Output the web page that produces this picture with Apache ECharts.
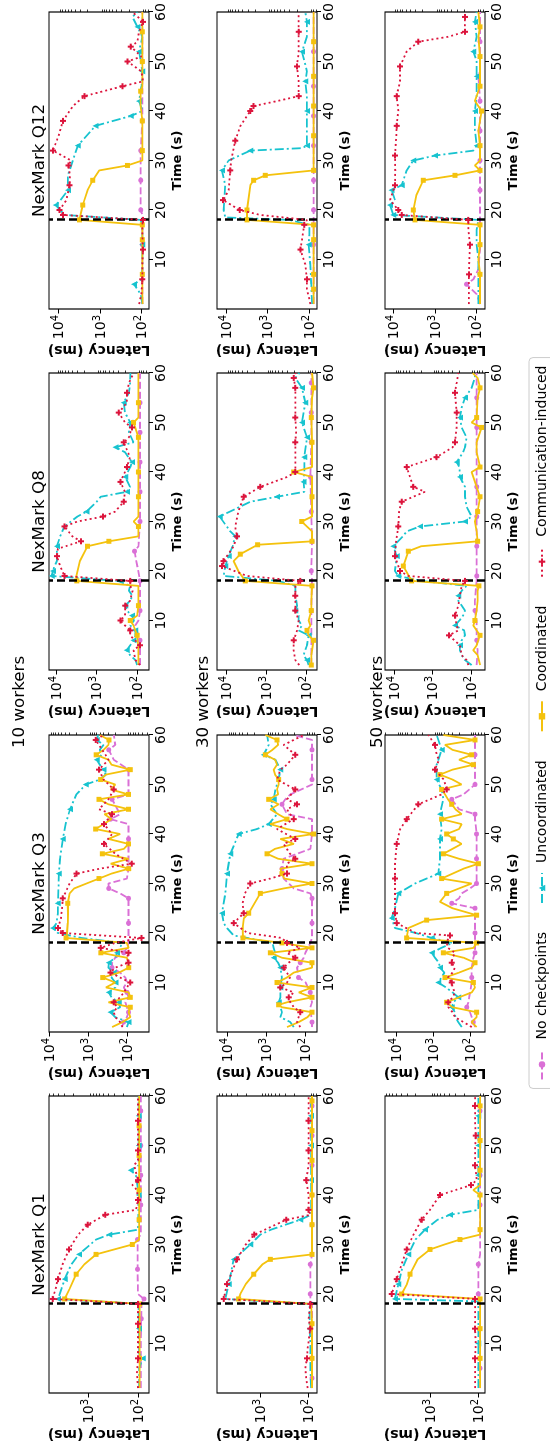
<!DOCTYPE html>
<html><head><meta charset="utf-8">
<script src="https://cdn.jsdelivr.net/npm/echarts@6/dist/echarts.min.js"></script>
<style>
html,body{margin:0;padding:0;background:#fff;}
#wrap{position:relative;width:550px;height:1446px;overflow:hidden;background:#fff;}
#chart{position:absolute;left:0;top:0;width:1446px;height:550px;transform-origin:0 0;transform:translate(0px,1446px) rotate(-90deg);}
</style></head><body>
<div id="wrap"><div id="chart"></div></div>
<script>
// ---------- labels ----------
const queries = ['NexMark Q1','NexMark Q3','NexMark Q8','NexMark Q12'];
const workers = ['10 workers','30 workers','50 workers'];
const seriesNames = ['No checkpoints','Uncoordinated','Coordinated','Communication-induced'];
const timeTicks = [10,20,30,40,50,60];
const latencyTicks = [100,1000,10000];
const latencyMinorTicks = [20,30,40,50,60,70,80,90,200,300,400,500,600,700,800,900,2000,3000,4000,5000,6000,7000,8000,9000,20000];
const checkpointTime = 18;
// y-axis limits [row][col]
const yMin = [[60,27,51,65.5],[67,51.5,54,65.5],[72.8,39,43,63]];
const yMax = [[6210,10190,15100,17060],[7890,17950,17100,16400],[8530,20800,17500,15850]];

// ---------- data: [time, latency(ms), marker?] ----------
// 10 workers
const none10_q1 = [[1,88],[8,88],[15,86,1],[18,85],[19,76,1],[20,100],[25,102,1],[31,102,1],[32,88],[38,88,1],[44,88,1],[50,88,1],[57,88,1],[60,88]];
const unc10_q1 = [[1,95],[5,95],[7,80,1],[8,95],[13,95,1],[18,98],[19,4100,1],[21,3500],[23,3000,1],[26,2200],[28,1550,1],[31,700],[32,380,1],[33,100],[40,97,1],[44,110],[45,140,1],[46,97],[50,97,1],[56,97,1],[60,97]];
const coo10_q1 = [[1,93],[7,93,1],[12,93],[18,93,1],[19,3000,1],[21,2400],[24,1760,1],[26,1200],[28,700,1],[30,130,1],[31,95],[35,95,1],[41,95,1],[48,95,1],[54,95,1],[60,95]];
const com10_q1 = [[1,100],[4,105],[7,100,1],[10,100],[14,100,1],[18,100,1],[19,5200,1],[21,4600],[23,4100,1],[26,3300],[29,2460,1],[32,1600],[34,1030,1],[36,458,1],[37,110],[39,100,1],[41,105],[42,130],[43,100,1],[46,120],[47,100],[49,100,1],[52,100],[55,100,1],[58,100],[60,100]];

const none10_q3 = [[1,134],[2,122,1],[3,100],[4,91,1],[5,100],[6,110],[7,91],[8,100,1],[9,120],[10,100],[11,110],[12,150],[13,241,1],[14,241],[15,200],[16,120,1],[17,100],[18,91],[19,91],[22,91,1],[25,91],[27,91,1],[28,150],[29,293,1],[30,300],[31,100],[33,91,1],[36,91],[39,91,1],[42,91],[43,265,1],[44,150],[47,241,1],[48,91],[50,91],[53,91,1],[55,218],[57,293,1],[58,200],[60,218]];
const unc10_q3 = [[1,100],[2,91,1],[3,200],[4,265,1],[5,150],[6,163,1],[7,250],[8,293,1],[9,200],[10,198,1],[11,250],[12,218,1],[13,300],[14,293,1],[15,200],[16,180,1],[17,150],[18,134],[19,1500],[20,6000],[21,8070,1],[22,6500],[24,6000],[26,6020,1],[29,5800],[32,5680,1],[35,5300],[39,4500,1],[42,3800],[45,2930,1],[48,2000],[50,1150,1],[51,500],[52,350],[53,400,1],[54,500],[55,600,1],[56,450],[57,500],[58,400],[59,600,1],[60,550]];
const coo10_q3 = [[1,240],[2,130],[3,82],[4,90],[5,82,1],[6,300],[7,82,1],[8,90],[9,350],[10,200],[11,420,1],[12,160],[13,90,1],[14,90],[15,100],[16,470,1],[17,90],[18,100],[19,3700,1],[20,3500],[22,3350],[24,3300],[26,3350,1],[28,3000],[29,2300],[30,1100],[31,525,1],[32,250],[33,90,1],[34,260],[35,90],[36,430,1],[37,120],[38,91,1],[39,300],[40,150],[41,640,1],[42,400],[43,250],[44,380],[45,91,1],[46,300],[47,525,1],[48,91,1],[49,260],[50,200],[51,476,1],[52,350],[53,82,1],[54,250],[55,300],[56,620,1],[57,400],[58,300],[59,290,1],[60,500]];
const com10_q3 = [[1,130],[2,150],[3,200],[4,218],[5,180],[6,218,1],[7,150],[8,120],[9,100],[10,82,1],[11,150],[12,265,1],[13,200],[14,91,1],[15,100],[16,91,1],[17,476,1],[18,200],[19,42,1],[20,4500,1],[21,6000,1],[23,5000],[25,4700],[27,4500,1],[30,3000],[32,1980,1],[33,500],[34,75,1],[36,200],[38,392,1],[40,241],[42,392,1],[44,241,1],[45,525],[47,300],[49,218,1],[51,400],[53,525,1],[55,300],[56,356],[59,640,1],[60,400]];

const none10_q8 = [[1,85],[6,85,1],[9,112],[10,93],[12,85,1],[18,85,1],[24,116,1],[25,93],[30,85,1],[36,85,1],[42,85,1],[48,85,1],[54,85,1],[60,85]];
const unc10_q8 = [[1,100],[2,110],[3,150],[4,180,1],[5,148],[6,123,1],[7,110],[8,112,1],[9,148],[10,120],[11,135,1],[12,179],[13,196,1],[14,150],[15,130],[16,160],[17,148],[18,300],[19,13000,1],[20,12050,1],[21,11000],[22,9640],[25,9640,1],[27,8000],[29,6270],[31,3000],[32,1790,1],[34,1000],[35,800],[36,179,1],[37,150],[39,196,1],[41,148],[42,135,1],[44,200],[45,344,1],[46,123],[48,160],[50,148,1],[52,200],[54,215,1],[56,160],[58,150],[60,148]];
const coo10_q8 = [[1,93],[3,93],[5,95],[7,100,1],[9,123],[10,148,1],[11,100],[13,93,1],[15,93],[17,93],[18,3100,1],[19,3200],[22,2600],[25,1690,1],[26,500,1],[27,93],[29,93,1],[30,123],[31,93],[35,93,1],[40,93,1],[44,93],[47,93,1],[50,123,1],[51,93],[54,93,1],[60,93]];
const com10_q8 = [[1,85],[2,110],[4,123],[5,85,1],[7,150],[8,148,1],[9,200],[10,260,1],[11,200],[13,196,1],[14,150],[16,130],[17,148],[18,148,1],[19,6270,1],[21,8000],[23,9640,1],[24.5,9100],[26,2450,1],[27,4000],[29,6270,1],[30,3000],[31,700,1],[32,350],[34,215,1],[36,200],[38,260,1],[40,200],[41,179,1],[43,150],[46,215,1],[47,160],[49,135,1],[50,200],[52,285,1],[54,180],[56,179,1],[58,160],[60,123]];

const none10_q12 = [[1,95],[7,95],[13,95,1],[19,95],[20,104,1],[26,104,1],[32,104,1],[38,95,1],[44,95],[50,95,1],[56,95],[60,95]];
const unc10_q12 = [[1,95],[3,104],[5,150,1],[6,100],[8,95],[12,95],[13,95,1],[17,95],[18,104],[19,7180],[21,11800,1],[22,9000],[24,5970,1],[27,5970],[33,3440,1],[37,1290,1],[39,180,1],[40,95],[42,114,1],[45,100],[48,95,1],[52,114,1],[55,95],[57,125,1],[59,164],[60,125]];
const coo10_q12 = [[1,93],[3,95],[7,95,1],[10,95],[14,95,1],[17,95,1],[18,3130,1],[21,2610,1],[24,2000],[26,1500,1],[28,1040],[29,217,1],[30,95],[32,95,1],[38,95,1],[41,104],[44,104,1],[45,95],[50,95,1],[56,95,1],[60,95]];
const com10_q12 = [[1,114],[3,100],[6,95,1],[9,95],[12,91,1],[15,95],[17,95],[18,91,1],[19,7870,1],[20,9460,1],[22,6500],[25,5440,1],[27,5300],[29,5750,1],[30,5000],[32,13700,1],[35,10000],[38,7870,1],[41,4500],[43,2380,1],[45,286,1],[46,91],[48,100],[50,217,1],[51,100],[53,180,1],[54,125],[56,114],[58,91,1],[60,164]];

// 30 workers
const none30_q1 = [[1,85],[3,85,1],[10,85],[13,85],[18,85],[19,92],[20,92,1],[26,92,1],[28,85],[34,85,1],[40,85,1],[46,85,1],[52,85,1],[58,85,1],[60,85]];
const unc30_q1 = [[1,89],[5,92],[10,92],[13,95,1],[15,95],[18,95],[19,5300],[22,4520,1],[27,3560,1],[30,1610,1],[32,1000],[33,600],[34,300],[35,149,1],[36,89],[40,89],[43,89,1],[48,89],[50,89,1],[56,89,1],[60,89]];
const coo30_q1 = [[1,85],[7,85,1],[14,85,1],[18,89],[19,2810,1],[20,2600],[22,2000],[24,1370,1],[26,900],[27,620,1],[28,85,1],[34,85,1],[40,85,1],[47,85,1],[53,85,1],[59,85,1],[60,85]];
const com30_q1 = [[1,105],[3,112],[5,117],[7,108,1],[9,105],[13,92,1],[15,100],[18,92,1],[19,5740,1],[22,4890,1],[27,3040,1],[30,2000],[32,1330,1],[35,290,1],[36,92],[37,100,1],[40,100],[43,112,1],[46,100],[49,100,1],[52,100],[55,100,1],[58,100],[60,100]];

const none30_q3 = [[1,69],[2,69,1],[5,76],[6,69],[8,76,1],[10,100],[11,151,1],[13,166],[14,137,1],[15,112],[16,102],[18,76],[19,69],[22,69,1],[27,69,1],[28,76],[29,200],[31,362],[33,400,1],[35,362],[37,76],[40,69,1],[43,69],[44,298],[46,400,1],[47,330],[48,245],[50,69],[51,69,1],[57,69,1],[59,69],[60,200]];
const unc30_q3 = [[1,200],[2,245],[3,440],[4,400],[6,486,1],[7,440],[9,440,1],[11,400],[13,440,1],[14,500],[15,650,1],[16,600],[17,650],[18,700],[19,3000],[19.5,6780],[21,10000],[22,12200],[24,13400,1],[26,12200],[28,11000],[32,10000,1],[36,8220,1],[40,5050,1],[41,1730],[42,870,1],[44,535],[46,790],[47,650,1],[49,590],[51,486],[53,440,1],[55,590],[56,1170,1],[58,870],[60,960]];
const coo30_q3 = [[1,298],[2,150],[3,90],[4,69,1],[5,400],[5.5,486,1],[6,300],[7,69,1],[8,150],[9,69,1],[10,535,1],[11,300],[12,200],[13,69],[14,69,1],[15,400],[16,790,1],[17,69,1],[18,400,1],[19,3920,1],[21,4000],[23,3700],[24,2810,1],[26,2000],[28,1420,1],[29,362],[30,69,1],[31,350],[32,400,1],[33,440],[34,69,1],[35,500],[36,960,1],[37,600],[38,200],[39,440],[40,63,1],[41,300],[42,790],[43,298,1],[44,500],[45,790],[46,486],[47,870,1],[48,500],[49,535],[50,486],[51,486,1],[52,600],[53,650],[54,535],[55,600],[56,1060,1],[57,700],[58,500],[59,535,1],[60,1060]];
const com30_q3 = [[1,137],[2,166],[3,151],[4,137,1],[5,200],[6,245],[7,271,1],[8,200],[9,440,1],[10,300],[11,250],[13,362,1],[14,271],[15,183,1],[16,300],[17,137],[18,298,1],[19,400],[20,3000],[22,6780,1],[24,3770,1],[26,4000],[28,3500],[30,2550,1],[31,800],[32,298,1],[34,300],[35,183,1],[36,250],[38,362],[39,183,1],[41,535],[43,202,1],[45,300],[46,166,1],[47,298],[49,183,1],[51,535],[53,440],[54,300],[56,183,1],[58,362],[60,112]];

const none30_q8 = [[1,75],[6,75],[12,75,1],[18,72],[20,75,1],[26,72,1],[32,75,1],[39,79,1],[46,75,1],[52,75,1],[58,75,1],[60,75]];
const unc30_q8 = [[1,87],[2,96,1],[3,117],[4,106],[5,96],[7,87,1],[8,155],[9,128],[10,155],[11,155],[12,188,1],[13,170],[15,188],[17,188],[18,500],[19,11700],[21,10600,1],[23,8740,1],[25,7000],[27,5960,1],[28,7940],[31,14700,1],[34,2500],[35,541,1],[36,112],[38,117,1],[40,112],[43,112,1],[47,96,1],[50,128,1],[54,106,1],[57,128,1],[59,188],[60,150]];
const coo30_q8 = [[1,75,1],[3,75],[6,66,1],[7,87],[8,96,1],[9,79],[10,87],[12,75,1],[14,75],[17,72,1],[18,3350,1],[20,5000],[22,6560],[23.4,4470,1],[25.3,1650,1],[26,72,1],[28,72],[30,130,1],[31,72],[35,72,1],[39,72],[40,207,1],[41,72],[46,72,1],[51,75,1],[55,72],[57,66,1],[60,72]];
const com30_q8 = [[1,150],[2,188],[4,207],[6,207,1],[8,170],[10,155],[12,188,1],[14,188],[15,188,1],[17,188],[18,141,1],[19,3040],[21,12800,1],[22,11700,1],[25,6560],[27,5410,1],[29,6000],[32,5000],[35,3690,1],[37,1410,1],[39,300],[40,188,1],[43,188],[46,188,1],[48,180],[51,188,1],[54,188],[57,188,1],[59,207,1],[60,188]];

const none30_q12 = [[1,79],[7,79],[13,79,1],[20,79,1],[26,79,1],[33,79,1],[39,79,1],[45,79,1],[52,79,1],[60,79]];
const unc30_q12 = [[1,86],[5,90],[9,95],[13,104,1],[15,100],[17,100],[18,300],[18.5,10400],[20,11400],[25,10400],[28,12500,1],[30,8630],[32,2610,1],[32.5,150],[33,114,1],[36,114],[40,114,1],[43,114],[46,125,1],[48,114],[52,150,1],[55,114],[58,114,1],[60,125]];
const coo30_q12 = [[1,79],[4,79,1],[7,79,1],[11,79],[14,79,1],[17,79,1],[18,3130,1],[20,3130,1],[25,2600],[26,2170,1],[27,1140,1],[28,79,1],[35,79,1],[41,79,1],[47,79,1],[54,79,1],[60,79]];
const com30_q12 = [[1,95],[2,100],[4,114],[6,114,1],[9,125],[12,164,1],[14,150],[17,132,1],[18,114],[19,1500],[20,4700,1],[22,11700,1],[24,8630],[28,7870,1],[30,7500],[34,5970,1],[37,4500],[40,2610,1],[41,2170,1],[42,600],[43,180,1],[46,180],[49,198,1],[52,180],[56,180,1],[58,180],[60,180]];

// 50 workers
const none50_q1 = [[1,92],[5,92,1],[12,92],[18,92],[20,100,1],[26,100,1],[28,92],[32,92],[38,92,1],[44,92,1],[50,92],[57,92,1],[60,92]];
const unc50_q1 = [[1,100],[5,100],[10,100,1],[13,100],[17,100],[18.5,100],[19,5300,1],[22,4520,1],[25,3800],[28,2810,1],[31,2000],[33,1270,1],[35,700],[36,386,1],[37,100],[40,100],[44,100,1],[50,100,1],[56,100,1],[60,100]];
const coo50_q1 = [[1,92],[7,92,1],[13,92,1],[18,92],[19,92,1],[20,3860,1],[22,3000],[24,2590,1],[27,1800],[29,1000,1],[30,500],[31,240,1],[32,92],[33,92,1],[40,92,1],[41,127],[42,92],[45,92,1],[51,92,1],[58,92,1],[60,92]];
const com50_q1 = [[1,117],[4,117],[7,117,1],[10,113],[13,117,1],[16,117],[19,117,1],[20,6210,1],[23,4890,1],[26,3860],[29,3040,1],[32,2200],[35,1490,1],[37,1000],[40,620,1],[42,142,1],[43,108],[46,117,1],[49,117],[52,113,1],[55,117],[58,117,1],[60,117]];

const none50_q3 = [[1,73],[2,81,1],[4,100],[5,123,1],[6,111],[8,100],[10,90],[11,90,1],[13,90],[15,81],[16,73,1],[18,73],[19,73],[20,73,1],[22,73],[25,73,1],[26,316,1],[27,200],[28,169],[29,100],[30,66,1],[33,66],[35,66,1],[40,66,1],[43,73],[44,73,1],[45,200],[47,316,1],[48,150],[50,73,1],[54,73],[56,73,1],[60,73]];
const unc50_q3 = [[1,169],[2,208],[3,250],[4,257],[5,316,1],[6,285],[7,208,1],[8,300],[9,450],[10,731,1],[11,600],[12,500],[13,658,1],[14,700],[15,900],[16,1110,1],[17,600],[18,300],[19,1100,1],[20,3000],[21,11100],[23,13700,1],[25,11100],[28,9010,1],[30,3160],[31,1520],[32,731,1],[35,658],[39,658,1],[41,593],[44,658,1],[47,533],[49,593],[51,811,1],[54,811],[57,593,1],[60,811]];
const coo50_q3 = [[1,66],[2,90],[3,66],[4,66,1],[5,300],[6,433,1],[7,200],[8,90],[9,73],[10,81,1],[11,481,1],[12,200],[13,90],[14,73,1],[15,150],[16,533,1],[17,80],[18,66,1],[19,5340,1],[21,4810],[22.6,1520,1],[23.6,66,1],[25,300],[26.3,658],[28,433,1],[29,200],[30,90],[31,593,1],[32,300],[33,150],[34,59,1],[35,200],[36,533,1],[37,300],[38,169],[39,285,1],[40,433,1],[41,200],[42,169],[43,593,1],[44,169],[45,250],[46,316,1],[47,400],[48,481],[49,593,1],[50,169],[51,300],[52,658,1],[53,300],[54,81,1],[55,200],[56,90,1],[57,300],[58,481],[59,73,1],[60,533]];
const com50_q3 = [[1,90],[2,150],[3,257],[4,300],[5,390],[6,390,1],[7,300],[8,257],[9,300],[10,316,1],[11,400],[12,300],[13,257],[14,316,1],[15,300],[16,257],[17,400],[18,433],[19,390],[19.5,351,1],[20,3000],[22,10000,1],[24,11100,1],[27,11100],[31,11100,1],[34,11100],[38,10000,1],[41,8000],[43,5340,1],[46,2570,1],[48,593],[49,433,1],[51,520],[53,900,1],[55,700],[56,811],[58,900,1],[60,1370]];

const none50_q8 = [[1,71],[4,67],[6,71,1],[10,71],[12,79,1],[14,79],[18,71],[19,71,1],[24,71],[25,71,1],[31,71,1],[37,71,1],[43,71],[49,71,1],[55,71,1],[60,71]];
const unc50_q8 = [[1,96],[2,143],[3,175],[4,194],[5,194,1],[6,175],[7,143],[8,150],[9,261,1],[10,200],[11,160],[12,143],[13,175],[14,214],[15,214,1],[16,175],[17,130],[18,2000],[19,7870,1],[20,9620],[23,8690,1],[25,10600,1],[27,6000],[28,4770],[29,2140,1],[30,143,1],[31,96],[33,130],[35,143],[37,143],[39,194,1],[41,200],[42,236,1],[44,160],[45,143],[47,130],[49,175],[51,194,1],[53,175],[55,143,1],[57,96],[59,79],[60,79]];
const coo50_q8 = [[1,58],[3,67],[4,87],[5,71],[7,58,1],[9,87],[10,79,1],[12,71],[14,67],[16,67],[17,62,1],[18,3530,1],[21,5820,1],[24,4310,1],[25,2000],[26,67,1],[28,71],[30,79],[32,67,1],[35,58,1],[37,71],[40,96],[41,58,1],[44,71],[46,71],[49,53,1],[50,96],[51,71,1],[55,67],[57,58,1],[59,67],[60,90]];
const com50_q8 = [[1,117],[2,130],[3,175],[5,194],[7,375,1],[8,214],[9,236],[11,261,1],[13,214],[15,194],[17,175],[18,143,1],[19,4310],[20,7120,1],[23,9620,1],[26,9000],[29,7870,1],[32,7500],[34,6440,1],[36,1590],[37,3190,1],[41,4770,1],[43,787,1],[45,300],[46,261,1],[49,236],[52,236,1],[56,261,1],[58,236],[60,214]];

const none50_q12 = [[1,83],[3,100],[5,175,1],[6,120],[8,91],[12,83],[18,83],[24,83,1],[30,83,1],[36,83,1],[42,83,1],[47,91,1],[48,83],[54,83,1],[60,83]];
const unc50_q12 = [[1,91],[6,91],[10,91],[13,100],[16,100],[18,91],[19,10000,1],[21,12000,1],[22,9120],[24,11000,1],[25,6310,1],[28,4790],[30,3310,1],[31,1000,1],[32,120],[33,100,1],[36,110],[40,110,1],[43,100],[47,100,1],[50,100],[52,120,1],[55,100],[58,110,1],[60,100]];
const coo50_q12 = [[1,83],[4,83],[7,83,1],[10,91],[13,83,1],[17,83,1],[18,3020,1],[20,3310,1],[23,2800],[26,1910,1],[27,331,1],[28,83,1],[29,110],[30,83],[33,83,1],[36,91],[40,76,1],[42,110],[45,83,1],[48,83],[51,83,1],[55,91],[57,83,1],[60,91]];
const com50_q12 = [[1,153],[4,153],[7,153,1],[10,150],[13,145,1],[16,158],[18,158,1],[19,6310,1],[20,7590,1],[22,12000],[25,9120,1],[28,9000],[31,9120,1],[35,8500],[37,8320,1],[40,7590],[43,8320,1],[46,6920],[49,6920,1],[52,4790],[54,2510,1],[55,480],[56,191,1],[58,191],[59,191,1],[60,191]];

const panels = [
  [[none10_q1,unc10_q1,coo10_q1,com10_q1],[none10_q3,unc10_q3,coo10_q3,com10_q3],[none10_q8,unc10_q8,coo10_q8,com10_q8],[none10_q12,unc10_q12,coo10_q12,com10_q12]],
  [[none30_q1,unc30_q1,coo30_q1,com30_q1],[none30_q3,unc30_q3,coo30_q3,com30_q3],[none30_q8,unc30_q8,coo30_q8,com30_q8],[none30_q12,unc30_q12,coo30_q12,com30_q12]],
  [[none50_q1,unc50_q1,coo50_q1,com50_q1],[none50_q3,unc50_q3,coo50_q3,com50_q3],[none50_q8,unc50_q8,coo50_q8,com50_q8],[none50_q12,unc50_q12,coo50_q12,com50_q12]]
];

// ---------- layout / style (unrotated figure 1446 x 550) ----------
const FONT = 'DejaVu Sans';
const gridLeft = [53, 414, 776, 1137];
const gridTop = [49, 217, 385];
const gridW = 297, gridH = 100;
const rowTitleY = [20, 204, 378];
const styles = [
  {color:'#DA70D6', type:[7,3], symbol:'circle', size:5, width:1.8},
  {color:'#17C3CF', type:[9,3,2,3], symbol:'triangle', size:6, width:1.8},
  {color:'#F4C20D', type:'solid', symbol:'rect', size:5, width:1.8},
  {color:'#DC143C', type:[2,3], symbol:'path://M1,0H2V1H3V2H2V3H1V2H0V1H1Z', size:6, width:1.8}
];

function toData(arr){
  return arr.map(p => p[2] ? {value:[p[0],p[1]]} : {value:[p[0],p[1]], symbol:'none'});
}
function supLabel(v){
  return '{b|10}{s|' + Math.round(Math.log10(v)) + '}';
}

const grids=[], xAxes=[], yAxes=[], series=[], graphics=[];
for (let r=0;r<3;r++){
  for (let c=0;c<4;c++){
    const g = r*4+c;
    const lo = yMin[r][c], hi = yMax[r][c];
    const majors = latencyTicks.filter(v => v>=lo && v<=hi);
    const minors = latencyMinorTicks.filter(v => v>=lo && v<=hi);
    grids.push({left:gridLeft[c], top:gridTop[r], width:gridW, height:gridH, show:true,
      borderColor:'#000', borderWidth:1.2, backgroundColor:'rgba(0,0,0,0)', outerBoundsMode:'none', containLabel:false});
    xAxes.push({gridIndex:g, type:'value', min:0, max:60,
      axisLine:{show:false}, splitLine:{show:false},
      axisTick:{show:true, customValues:timeTicks, length:4, lineStyle:{color:'#000', width:1}},
      axisLabel:{customValues:timeTicks, color:'#000', fontSize:14, fontFamily:FONT, margin:5},
      name:'Time (s)', nameLocation:'middle', nameGap:22,
      nameTextStyle:{color:'#000', fontSize:13, fontWeight:'bold', fontFamily:FONT}});
    yAxes.push({gridIndex:g, type:'log', logBase:10, min:lo, max:hi,
      axisLine:{show:false}, splitLine:{show:false}, minorTick:{show:false},
      axisTick:{show:true, customValues:majors, length:4.5, lineStyle:{color:'#000', width:1}},
      axisLabel:{customValues:majors, formatter:supLabel, margin:6, color:'#000',
        rich:{b:{fontSize:14, fontFamily:FONT, color:'#000', lineHeight:16, verticalAlign:'bottom'},
              s:{fontSize:10, fontFamily:FONT, color:'#000', lineHeight:8, verticalAlign:'top'}}},
      name:'Latency (ms)', nameLocation:'middle', nameGap:33, nameRotate:90,
      nameTextStyle:{color:'#000', fontSize:14, fontWeight:'bold', fontFamily:FONT}});
    yAxes.push({gridIndex:g, type:'log', logBase:10, min:lo, max:hi,
      axisLine:{show:false}, splitLine:{show:false}, minorTick:{show:false},
      axisTick:{show:true, customValues:minors, length:2.5, lineStyle:{color:'#000', width:0.8}},
      axisLabel:{show:false}});
    for (let k=0;k<4;k++){
      const st = styles[k];
      const s = {type:'line', name:seriesNames[k], xAxisIndex:g, yAxisIndex:2*g,
        data:toData(panels[r][c][k]), symbol:st.symbol, symbolSize:st.size, showSymbol:true,
        lineStyle:{color:st.color, width:st.width, type:st.type},
        itemStyle:{color:st.color, borderWidth:0},
        emphasis:{disabled:true}, animation:false, clip:true, z:2+k};
      if (k===3){
        s.markLine = {silent:true, symbol:['none','none'], label:{show:false}, animation:false,
          lineStyle:{color:'#000', type:[8,4], width:2.5}, emphasis:{disabled:true},
          data:[{xAxis:checkpointTime}]};
      }
      series.push(s);
    }
  }
}
for (let c=0;c<4;c++){
  graphics.push({type:'text', x:gridLeft[c]+gridW/2, y:40, style:{text:queries[c], font:'16.7px "DejaVu Sans"', fill:'#000', textAlign:'center', textVerticalAlign:'middle'}});
}
for (let r=0;r<3;r++){
  graphics.push({type:'text', x:744, y:rowTitleY[r], style:{text:workers[r], font:'16.7px "DejaVu Sans"', fill:'#000', textAlign:'center', textVerticalAlign:'middle'}});
}

const chart = echarts.init(document.getElementById('chart'), null, {renderer:'canvas', width:1446, height:550, devicePixelRatio:1});
chart.setOption({
  animation:false,
  backgroundColor:'#fff',
  grid:grids, xAxis:xAxes, yAxis:yAxes, series:series, graphic:graphics,
  legend:{data:seriesNames, top:529, left:'center', orient:'horizontal', itemWidth:30, itemHeight:8, itemGap:28,
    padding:[6,8], borderColor:'#cccccc', borderWidth:1, borderRadius:4, backgroundColor:'#fff',
    textStyle:{fontSize:14, fontFamily:FONT, color:'#000', padding:[0,0,0,5]}, selectedMode:false}
});
</script>
</body></html>
